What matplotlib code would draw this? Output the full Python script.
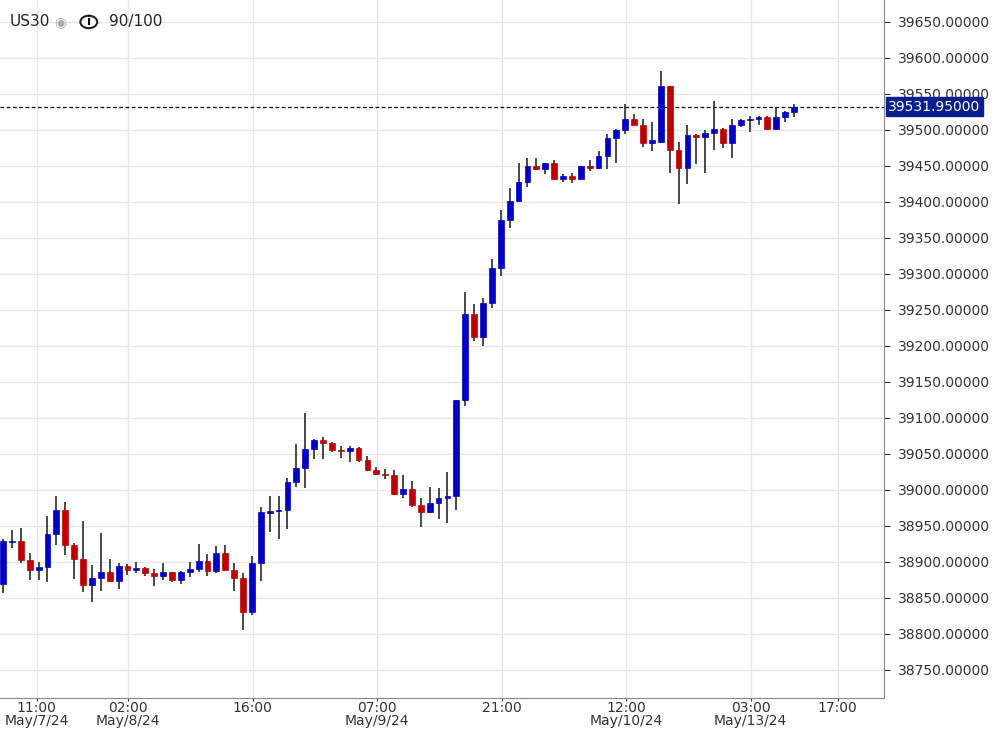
import matplotlib.pyplot as plt
from matplotlib.patches import Rectangle, Circle

symbol = "US30"
score = "90/100"
last_price = 39531.95

opens = [38869, 38928, 38929, 38903, 38889, 38893, 38939, 38972, 38924, 38904,
         38868, 38878, 38886, 38874, 38894, 38889, 38892, 38885, 38881, 38886,
         38875, 38886, 38890, 38901, 38887, 38912, 38889, 38878, 38831, 38899,
         38968, 38970, 38972, 39011, 39031, 39057, 39069, 39065, 39056, 39054,
         39058, 39042, 39028, 39022, 39021, 38994, 39001, 38979, 38969, 38982,
         38989, 38992, 39125, 39244, 39212, 39260, 39308, 39375, 39401, 39428,
         39450, 39446, 39454, 39432, 39436, 39432, 39450, 39447, 39464, 39489,
         39499, 39515, 39507, 39482, 39483, 39560, 39472, 39447, 39492, 39490,
         39496, 39501, 39481, 39506, 39513, 39515, 39517, 39501, 39518, 39525]
closes = [38929, 38928, 38903, 38889, 38893, 38939, 38972, 38924, 38904, 38868,
          38878, 38886, 38874, 38894, 38889, 38892, 38885, 38881, 38886, 38875,
          38886, 38890, 38901, 38887, 38912, 38889, 38878, 38831, 38899, 38969,
          38970, 38972, 39011, 39031, 39057, 39069, 39065, 39056, 39054, 39058,
          39042, 39028, 39022, 39021, 38994, 39001, 38979, 38969, 38982, 38989,
          38992, 39125, 39244, 39212, 39260, 39308, 39374, 39401, 39428, 39450,
          39446, 39454, 39432, 39436, 39432, 39450, 39447, 39464, 39489, 39499,
          39515, 39507, 39482, 39485, 39560, 39472, 39447, 39492, 39490, 39496,
          39501, 39481, 39506, 39513, 39515, 39517, 39501, 39518, 39525, 39531.95]
highs = [38932, 38944, 38947, 38912, 38900, 38964, 38992, 38983, 38926, 38957,
         38896, 38940, 38904, 38899, 38897, 38900, 38893, 38890, 38899, 38886,
         38888, 38900, 38925, 38911, 38922, 38924, 38899, 38885, 38908, 38976,
         38992, 38992, 39017, 39064, 39106, 39071, 39074, 39067, 39061, 39061,
         39060, 39047, 39032, 39029, 39028, 39021, 39012, 38989, 39004, 39003,
         39025, 39125, 39274, 39258, 39267, 39320, 39389, 39419, 39454, 39460,
         39461, 39454, 39458, 39439, 39440, 39450, 39458, 39471, 39494, 39501,
         39536, 39522, 39515, 39510, 39582, 39560, 39483, 39507, 39494, 39500,
         39540, 39503, 39515, 39515, 39519, 39519, 39519, 39531, 39526, 39536]
lows = [38857, 38919, 38899, 38875, 38875, 38872, 38924, 38910, 38876, 38858,
        38844, 38860, 38872, 38863, 38882, 38885, 38881, 38867, 38875, 38872,
        38869, 38879, 38886, 38881, 38885, 38889, 38860, 38806, 38826, 38874,
        38942, 38932, 38946, 39004, 39003, 39043, 39043, 39053, 39044, 39039,
        39038, 39026, 39021, 39015, 38993, 38989, 38976, 38949, 38968, 38960,
        38954, 38972, 39117, 39207, 39199, 39253, 39297, 39364, 39399, 39421,
        39444, 39439, 39432, 39428, 39426, 39432, 39443, 39446, 39446, 39454,
        39494, 39506, 39476, 39471, 39481, 39440, 39397, 39424, 39453, 39440,
        39472, 39475, 39460, 39504, 39497, 39507, 39499, 39499, 39510, 39518]

tick_pos = [3.8, 14.1, 28.1, 42.1, 56.1, 70.1, 84.1, 93.9]
tick_labels = ["11:00\nMay/7/24", "02:00\nMay/8/24", "16:00", "07:00\nMay/9/24",
               "21:00", "12:00\nMay/10/24", "03:00\nMay/13/24", "17:00"]

up_color = "#0000c8"
down_color = "#c00000"

fig = plt.figure(figsize=(9.92, 7.32), dpi=100)
ax = fig.add_axes([0.0, 0.0464, 0.891, 0.9536])

for i in range(len(opens)):
    o, c, h, l = opens[i], closes[i], highs[i], lows[i]
    color = up_color if c >= o else down_color
    ax.vlines(i, l, h, color="#2a2a2a", linewidth=1.2, zorder=2)
    bottom = min(o, c)
    height = max(abs(c - o), 1.5)
    ax.add_patch(Rectangle((i - 0.33, bottom), 0.66, height, facecolor=color,
                           edgecolor=color, linewidth=0.5, zorder=3))

ax.axhline(last_price, color="black", linestyle=(0, (3, 2)), linewidth=0.9, zorder=1)

ax.set_yticks(range(38700, 39701, 50))
ax.set_xticks(tick_pos)
ax.set_xlim(-0.34, 99.1)
ax.set_ylim(38711, 39680)
ax.yaxis.tick_right()
ax.yaxis.set_major_formatter(plt.FuncFormatter(lambda v, p: f"{v:.5f}"))
ax.set_xticklabels(tick_labels, linespacing=0.95)
ax.tick_params(axis="both", labelsize=10, colors="#333333", length=4)
ax.tick_params(axis="y", pad=6)
ax.tick_params(axis="x", pad=0, length=2)
ax.grid(True, color="#e6e6e6", linewidth=1)
ax.set_axisbelow(True)
for side in ["top", "left"]:
    ax.spines[side].set_visible(False)
for side in ["right", "bottom"]:
    ax.spines[side].set_color("#888888")

ax.text(1.005, last_price, f"{last_price:.5f}", transform=ax.get_yaxis_transform(),
        va="center", ha="left", fontsize=10, color="white",
        bbox=dict(boxstyle="square,pad=0.2", facecolor="#0a1f8f", edgecolor="#0a1f8f"),
        zorder=5)

fig.text(0.010, 0.970, symbol, fontsize=11, color="#222222", va="center")
fig.text(0.055, 0.970, "\u25C9", fontsize=10, color="#aaaaaa", va="center")
fig.patches.append(Circle((0.0895, 0.970), 0.0085, transform=fig.transFigure,
                          facecolor="white", edgecolor="#222222", linewidth=1.5))
fig.text(0.0895, 0.970, "i", fontsize=9, fontweight="bold", ha="center", va="center")
fig.text(0.110, 0.970, score, fontsize=11, color="#222222", va="center")

fig.savefig("out.png", dpi=100)
